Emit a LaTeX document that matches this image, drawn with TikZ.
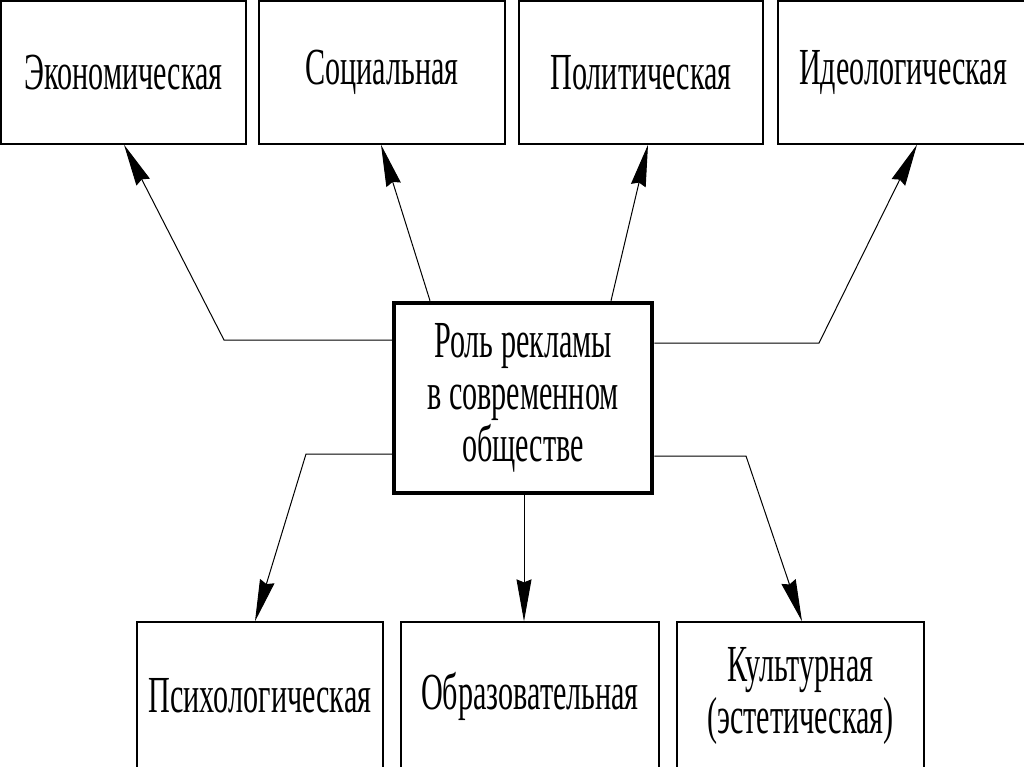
\documentclass[tikz,border=0pt]{standalone}
\usepackage{fontspec}
\setmainfont[FakeStretch=0.58]{Liberation Serif}
\usetikzlibrary{arrows.meta}
\begin{document}
\begin{tikzpicture}[x=1pt,y=-1pt,
  box/.style={draw,line width=1.3pt,rectangle,inner sep=0pt,align=center,
    font=\fontsize{52}{52}\selectfont},
  mainbox/.style={box,line width=4.5pt},
  arr/.style={line width=1pt,-{Stealth[length=42pt,width=15pt,inset=3pt]}},
  ln/.style={line width=1pt}]
\useasboundingbox (0,0) rectangle (1024,766);
\fill[white] (0,0) rectangle (1024,766);
% top boxes
\node[box,minimum width=245pt,minimum height=143pt] (e) at (123.5,72.5) {Экономическая};
\node[box,minimum width=246pt,minimum height=143pt] (s) at (382,72.5) {Социальная};
\node[box,minimum width=244pt,minimum height=143pt] (p) at (641,72.5) {Политическая};
\node[box,minimum width=250pt,minimum height=143pt] (i) at (903,72.5) {Идеологическая};
% center
\node[mainbox,minimum width=258pt,minimum height=190pt] (c) at (523,398) {Роль рекламы\\в современном\\обществе};
% bottom boxes
\node[box,minimum width=246pt,minimum height=148pt] (ps) at (260,696) {Психологическая};
\node[box,minimum width=258pt,minimum height=148pt] (ob) at (530,696) {Образовательная};
\node[box,minimum width=247pt,minimum height=148pt] (ku) at (800.5,696) {Культурная\\(эстетическая)};
% bend points
\coordinate (b1) at (224,340);
\coordinate (b4) at (819,343);
\coordinate (b5) at (306,454);
\coordinate (b7) at (746,456);
% connectors
\draw[arr] (c.west |- b1) -- (b1) -- (e.south -| 124,0);
\draw[arr] (c.north -| 430,0) -- (s.south -| 381,0);
\draw[arr] (c.north -| 611,0) -- (p.south -| 648,0);
\draw[arr] (c.east |- b4) -- (b4) -- (i.south -| 917,0);
\draw[arr] (c.west |- b5) -- (b5) -- (ps.north -| 255,0);
\draw[arr] (c.south -| 524,0) -- (ob.north -| 524,0);
\draw[arr] (c.east |- b7) -- (b7) -- (ku.north -| 802,0);
\end{tikzpicture}
\end{document}
